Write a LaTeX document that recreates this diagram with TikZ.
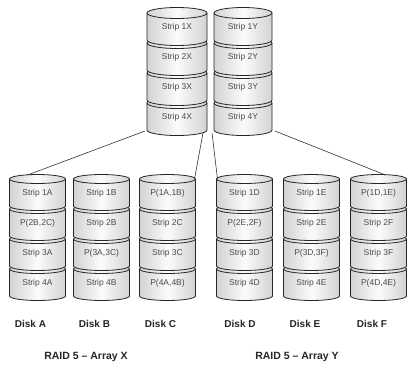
\documentclass[tikz,border=0pt]{standalone}
\usepackage{fontspec}
\setmainfont{Liberation Sans}
\usepackage{tikz}
\usetikzlibrary{positioning,calc}

\tikzset{
  segbody/.style={draw=black!85, line width=0.8pt, left color=gray!35, right color=gray!35, middle color=gray!3},
  segedge/.style={draw=black!85, line width=0.8pt},
  seglabel/.style={font=\fontsize{8.5}{10}\selectfont, text=black!70},
  disklabel/.style={font=\bfseries\fontsize{10}{12}\selectfont, text=black!85},
  arraylabel/.style={font=\bfseries\fontsize{10.5}{12}\selectfont, text=black!85},
  link/.style={draw=black!80, line width=0.6pt},
}

% one platter of a stack: centre x, top y, half width, y radius
\newcommand{\diskseg}[4]{%
  \path[segbody] ({#1-#3},{#2}) -- ({#1-#3},{#2-27}) arc (180:360:#3pt and #4pt)
    -- ({#1+#3},{#2}) arc (0:180:#3pt and #4pt) -- cycle;
  \draw[segedge] ({#1-#3},{#2}) arc (180:360:#3pt and #4pt);
}

% a stack of four platters: name, centre x, top y, half width, y radius, four labels
\newcommand{\diskstack}[9]{%
  \diskseg{#2}{#3-90}{#4}{#5}
  \diskseg{#2}{#3-60}{#4}{#5}
  \diskseg{#2}{#3-30}{#4}{#5}
  \diskseg{#2}{#3}{#4}{#5}
  \node[seglabel] (#1-1) at (#2,{#3-14}) {#6};
  \node[seglabel] (#1-2) at (#2,{#3-44}) {#7};
  \node[seglabel] (#1-3) at (#2,{#3-74}) {#8};
  \node[seglabel] (#1-4) at (#2,{#3-104}) {#9};
  \coordinate (#1-top) at (#2,#3);
  \coordinate (#1-w) at ({#2-#4},#3);
  \coordinate (#1-e) at ({#2+#4},#3);
  \coordinate (#1-sw) at ({#2-#4},{#3-117});
  \coordinate (#1-se) at ({#2+#4},{#3-117});
}

\begin{document}
\begin{tikzpicture}[x=1pt,y=1pt]
  \useasboundingbox[fill=white] (0,0) rectangle (407,-376);

  % upper stacks
  \diskstack{X}{177}{-13}{30}{5.5}{Strip 1X}{Strip 2X}{Strip 3X}{Strip 4X}
  \diskstack{Y}{243}{-13}{29}{5.5}{Strip 1Y}{Strip 2Y}{Strip 3Y}{Strip 4Y}

  % RAID 5 members
  \diskstack{A}{37.5}{-179}{28}{4.5}{Strip 1A}{P(2B,2C)}{Strip 3A}{Strip 4A}
  \diskstack{B}{101.5}{-179}{28}{4.5}{Strip 1B}{Strip 2B}{P(3A,3C)}{Strip 4B}
  \diskstack{C}{167.5}{-179}{28}{4.5}{P(1A,1B)}{Strip 2C}{Strip 3C}{P(4A,4B)}
  \diskstack{D}{244.5}{-179}{28}{4.5}{Strip 1D}{P(2E,2F)}{Strip 3D}{Strip 4D}
  \diskstack{E}{311.5}{-179}{28}{4.5}{Strip 1E}{Strip 2E}{P(3D,3F)}{Strip 4E}
  \diskstack{F}{378.5}{-179}{28}{4.5}{P(1D,1E)}{Strip 2F}{Strip 3F}{P(4D,4E)}

  % links
  \draw[link] ([shift={(-2,-1)}]X-sw) -- ([shift={(-10,4)}]A-top);
  \draw[link] ([shift={(-4,-3)}]X-se) -- ([shift={(-1,0)}]C-e);
  \draw[link] ([shift={(-2,-3)}]Y-sw) -- ([shift={(1,0)}]D-w);
  \draw[link] ([shift={(3,-1)}]Y-se) -- ([shift={(7,4)}]F-top);

  % disk names
  \foreach \d/\x in {A/30.5, B/94.5, C/160.5, D/240, E/305, F/372}
    \node[disklabel] (name\d) at (\x,-324) {Disk \d};

  \node[arraylabel] (arrayX) at (86,-357) {RAID 5 – Array X};
  \node[arraylabel] (arrayY) at (297,-357) {RAID 5 – Array Y};
\end{tikzpicture}
\end{document}
